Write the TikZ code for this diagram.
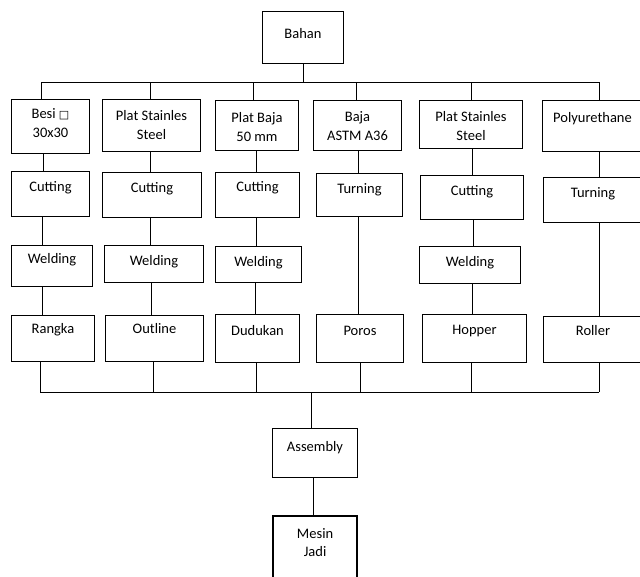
\documentclass[tikz,border=0pt]{standalone}
\usepackage{fontspec}
\setmainfont{Carlito}
\newfontfamily\dejavu{DejaVu Sans}
\tikzset{
  boxst/.style={draw, line width=1pt, inner sep=0pt, font=\fontsize{14.5}{18.5}\selectfont},
  thickbox/.style={line width=2.2pt},
  conn/.style={line width=1pt}
}
\newcommand\mybox[8][]{%
  \pgfmathsetmacro\bxw{#5-#3}\pgfmathsetmacro\bxh{#6-#4}%
  \node[boxst,#1,anchor=north west] (#2) at (#3,#4)
    {\parbox[c][\bxh pt][t]{\bxw pt}{\centering\rule{0pt}{#7pt}#8}};}
\begin{document}
\begin{tikzpicture}[x=1pt,y=-1pt]
\useasboundingbox (0,0) rectangle (640,576);
% boxes
\mybox{bahan}{262}{11}{343}{63}{27}{Bahan}
\mybox{besi}{11}{99}{89}{153}{19}{Besi {\dejavu\fontsize{11}{11}\selectfont □}\\30x30}
\mybox{platA}{102}{99}{200}{151}{21}{Plat Stainles\\Steel}
\mybox{platbaja}{215}{100}{298}{150}{22}{Plat Baja\\50 mm}
\mybox{baja}{313}{100}{401}{150}{21}{Baja\\ASTM A36}
\mybox{platB}{419}{100}{522}{148}{21}{Plat Stainles\\Steel}
\mybox{poly}{542}{100}{642}{151}{22}{Polyurethane}
\mybox{cutA}{11}{171}{89}{216}{20}{Cutting}
\mybox{cutB}{102}{172}{201}{217}{20}{Cutting}
\mybox{cutC}{215}{172}{299}{217}{19}{Cutting}
\mybox{turnA}{316}{173}{402}{216}{20}{Turning}
\mybox{cutD}{420}{175}{523}{219}{20}{Cutting}
\mybox{turnB}{543}{177}{642}{222}{20}{Turning}
\mybox{weldA}{11}{245}{92}{286}{18}{Welding}
\mybox{weldB}{104}{245}{203}{282}{20}{Welding}
\mybox{weldC}{215}{246}{301}{282}{20}{Welding}
\mybox{weldD}{419}{246}{520}{283}{20}{Welding}
\mybox{rangka}{11}{315}{94}{361}{18}{Rangka}
\mybox{outline}{105}{315}{203}{361}{18}{Outline}
\mybox{dudukan}{215}{314}{299}{362}{21}{Dudukan}
\mybox{poros}{316}{314}{403}{362}{21}{Poros}
\mybox{hopper}{422}{314}{526}{362}{20}{Hopper}
\mybox{roller}{543}{316}{642}{362}{19}{Roller}
\mybox{assembly}{272}{428}{357}{477}{23}{Assembly}
\mybox[thickbox]{mesin}{272}{515}{356}{595}{22}{Mesin\\Jadi}
% column coordinates
\foreach \xv in {40,41,42,43,150,151,153,253,255,256,303,311,313,356,358,360,471,472,473,599}
  {\coordinate (x\xv) at (\xv,0);}
\coordinate (topL) at (41,82);
\coordinate (topR) at (599,82);
\coordinate (busL) at (40,392);
\coordinate (busR) at (599,392);
% top distribution
\draw[conn] (bahan.south -| x303) -- (x303 |- topL);
\draw[conn] (topL) -- (topR);
\draw[conn] (topL) -- (besi.north -| x41);
\draw[conn] (x150 |- topL) -- (platA.north -| x150);
\draw[conn] (x253 |- topL) -- (platbaja.north -| x253);
\draw[conn] (x356 |- topL) -- (baja.north -| x356);
\draw[conn] (x471 |- topL) -- (platB.north -| x471);
\draw[conn] (topR) -- (poly.north -| x599);
% column 1
\draw[conn] (besi.south -| x43) -- (cutA.north -| x43);
\draw[conn] (cutA.south -| x42) -- (weldA.north -| x42);
\draw[conn] (weldA.south -| x42) -- (rangka.north -| x42);
% column 2
\draw[conn] (platA.south -| x150) -- (cutB.north -| x150);
\draw[conn] (cutB.south -| x150) -- (weldB.north -| x150);
\draw[conn] (weldB.south -| x151) -- (outline.north -| x151);
% column 3
\draw[conn] (platbaja.south -| x256) -- (cutC.north -| x256);
\draw[conn] (cutC.south -| x256) -- (weldC.north -| x256);
\draw[conn] (weldC.south -| x255) -- (dudukan.north -| x255);
% column 4
\draw[conn] (baja.south -| x358) -- (turnA.north -| x358);
\draw[conn] (turnA.south -| x358) -- (poros.north -| x358);
% column 5
\draw[conn] (platB.south -| x472) -- (cutD.north -| x472);
\draw[conn] (cutD.south -| x473) -- (weldD.north -| x473);
\draw[conn] (weldD.south -| x472) -- (hopper.north -| x472);
% column 6
\draw[conn] (poly.south -| x599) -- (turnB.north -| x599);
\draw[conn] (turnB.south -| x599) -- (roller.north -| x599);
% bottom collection
\draw[conn] (rangka.south -| x40) -- (busL);
\draw[conn] (outline.south -| x153) -- (x153 |- busL);
\draw[conn] (dudukan.south -| x256) -- (x256 |- busL);
\draw[conn] (poros.south -| x360) -- (x360 |- busL);
\draw[conn] (hopper.south -| x471) -- (x471 |- busL);
\draw[conn] (roller.south -| x599) -- (busR);
\draw[conn] (busL) -- (busR);
\draw[conn] (x311 |- busL) -- (assembly.north -| x311);
\draw[conn] (assembly.south -| x313) -- (mesin.north -| x313);
\end{tikzpicture}
\end{document}
